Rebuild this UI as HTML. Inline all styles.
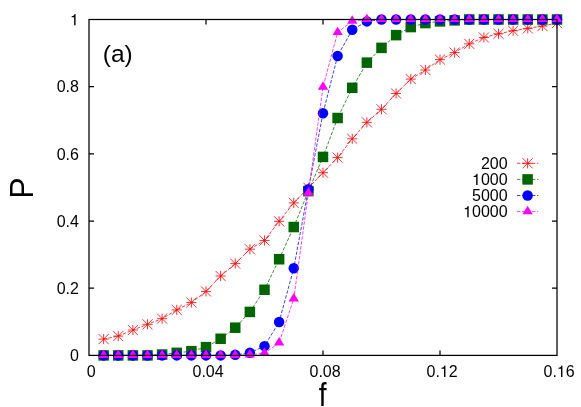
<!DOCTYPE html>
<html><head><meta charset="utf-8"><title>plot</title>
<style>
html,body{margin:0;padding:0;background:#fff;}
body{width:581px;height:407px;overflow:hidden;}
svg{display:block;will-change:transform;}
text{font-family:"Liberation Sans",sans-serif;fill:#000;}
</style></head><body>
<svg width="581" height="407" viewBox="0 0 581 407">
<rect x="0" y="0" width="581" height="407" fill="#fff"/>
<g font-size="16px">
<text x="70.00" y="361.20">0</text>
<text x="56.66" y="294.02">0.2</text>
<text x="56.66" y="226.84">0.4</text>
<text x="56.66" y="159.66">0.6</text>
<text x="56.66" y="92.48">0.8</text>
<path transform="translate(70.00,25.30) scale(0.016,-0.016)" d="M259 0L347 0L347 709L289 709C268 634 236 580 102 568L102 505L259 505Z" fill="#000"/>
<text x="86.65" y="376.90">0</text>
<text x="192.53" y="376.90">0.04</text>
<text x="309.53" y="376.90">0.08</text>
<text x="426.53" y="376.90">0.</text>
<path transform="translate(439.88,376.90) scale(0.016,-0.016)" d="M259 0L347 0L347 709L289 709C268 634 236 580 102 568L102 505L259 505Z" fill="#000"/>
<text x="448.77" y="376.90">2</text>
<text x="543.53" y="376.90">0.</text>
<path transform="translate(556.88,376.90) scale(0.016,-0.016)" d="M259 0L347 0L347 709L289 709C268 634 236 580 102 568L102 505L259 505Z" fill="#000"/>
<text x="565.77" y="376.90">6</text>
</g>
<text x="102.8" y="61.7" font-size="24.5px">(a)</text>
<text transform="translate(322.6,406.4) scale(0.88,1.05)" font-size="32px" text-anchor="middle">f</text>
<text transform="translate(33.0,188.0) rotate(-90) scale(1,1.06)" font-size="32px" text-anchor="middle">P</text>
<g stroke="#000" stroke-width="1.25" fill="none">
<path d="M89.0 288.22h5M557.0 288.22h-5"/>
<path d="M89.0 221.04h5M557.0 221.04h-5"/>
<path d="M89.0 153.86h5M557.0 153.86h-5"/>
<path d="M89.0 86.68h5M557.0 86.68h-5"/>
<path d="M206.00 355.4v-5M206.00 19.5v5"/>
<path d="M323.00 355.4v-5M323.00 19.5v5"/>
<path d="M440.00 355.4v-5M440.00 19.5v5"/>
</g>
<path d="M103.62 339.10 L118.25 336.08 L132.88 330.04 L147.50 324.33 L162.12 318.63 L176.75 309.91 L191.38 302.53 L206.00 291.45 L220.62 276.02 L235.25 263.61 L249.88 249.18 L264.50 240.46 L279.12 221.34 L293.75 202.88 L308.38 187.79 L323.00 172.69 L337.62 157.59 L352.25 138.80 L366.88 122.36 L381.50 109.28 L396.12 93.51 L410.75 79.08 L425.38 70.02 L440.00 59.62 L454.62 52.58 L469.25 43.86 L483.88 37.48 L498.50 33.79 L513.12 30.77 L527.75 28.42 L542.38 26.07 L557.00 23.06" fill="none" stroke="#ff0000" stroke-width="0.75" stroke-dasharray="3.4 1.6"/>
<path d="M98.58 339.10h10.1M103.62 334.05v10.1M98.58 334.05l10.1 10.1M98.58 344.15l10.1 -10.1" stroke="#ff0000" stroke-width="0.8" fill="none"/>
<path d="M113.20 336.08h10.1M118.25 331.03v10.1M113.20 331.03l10.1 10.1M113.20 341.13l10.1 -10.1" stroke="#ff0000" stroke-width="0.8" fill="none"/>
<path d="M127.83 330.04h10.1M132.88 324.99v10.1M127.83 324.99l10.1 10.1M127.83 335.09l10.1 -10.1" stroke="#ff0000" stroke-width="0.8" fill="none"/>
<path d="M142.45 324.33h10.1M147.50 319.28v10.1M142.45 319.28l10.1 10.1M142.45 329.38l10.1 -10.1" stroke="#ff0000" stroke-width="0.8" fill="none"/>
<path d="M157.07 318.63h10.1M162.12 313.58v10.1M157.07 313.58l10.1 10.1M157.07 323.68l10.1 -10.1" stroke="#ff0000" stroke-width="0.8" fill="none"/>
<path d="M171.70 309.91h10.1M176.75 304.86v10.1M171.70 304.86l10.1 10.1M171.70 314.96l10.1 -10.1" stroke="#ff0000" stroke-width="0.8" fill="none"/>
<path d="M186.32 302.53h10.1M191.38 297.48v10.1M186.32 297.48l10.1 10.1M186.32 307.58l10.1 -10.1" stroke="#ff0000" stroke-width="0.8" fill="none"/>
<path d="M200.95 291.45h10.1M206.00 286.40v10.1M200.95 286.40l10.1 10.1M200.95 296.50l10.1 -10.1" stroke="#ff0000" stroke-width="0.8" fill="none"/>
<path d="M215.57 276.02h10.1M220.62 270.97v10.1M215.57 270.97l10.1 10.1M215.57 281.07l10.1 -10.1" stroke="#ff0000" stroke-width="0.8" fill="none"/>
<path d="M230.20 263.61h10.1M235.25 258.56v10.1M230.20 258.56l10.1 10.1M230.20 268.66l10.1 -10.1" stroke="#ff0000" stroke-width="0.8" fill="none"/>
<path d="M244.82 249.18h10.1M249.88 244.13v10.1M244.82 244.13l10.1 10.1M244.82 254.23l10.1 -10.1" stroke="#ff0000" stroke-width="0.8" fill="none"/>
<path d="M259.45 240.46h10.1M264.50 235.41v10.1M259.45 235.41l10.1 10.1M259.45 245.51l10.1 -10.1" stroke="#ff0000" stroke-width="0.8" fill="none"/>
<path d="M274.07 221.34h10.1M279.12 216.29v10.1M274.07 216.29l10.1 10.1M274.07 226.39l10.1 -10.1" stroke="#ff0000" stroke-width="0.8" fill="none"/>
<path d="M288.70 202.88h10.1M293.75 197.83v10.1M288.70 197.83l10.1 10.1M288.70 207.93l10.1 -10.1" stroke="#ff0000" stroke-width="0.8" fill="none"/>
<path d="M303.32 187.79h10.1M308.38 182.74v10.1M303.32 182.74l10.1 10.1M303.32 192.84l10.1 -10.1" stroke="#ff0000" stroke-width="0.8" fill="none"/>
<path d="M317.95 172.69h10.1M323.00 167.64v10.1M317.95 167.64l10.1 10.1M317.95 177.74l10.1 -10.1" stroke="#ff0000" stroke-width="0.8" fill="none"/>
<path d="M332.57 157.59h10.1M337.62 152.54v10.1M332.57 152.54l10.1 10.1M332.57 162.64l10.1 -10.1" stroke="#ff0000" stroke-width="0.8" fill="none"/>
<path d="M347.20 138.80h10.1M352.25 133.75v10.1M347.20 133.75l10.1 10.1M347.20 143.85l10.1 -10.1" stroke="#ff0000" stroke-width="0.8" fill="none"/>
<path d="M361.82 122.36h10.1M366.88 117.31v10.1M361.82 117.31l10.1 10.1M361.82 127.41l10.1 -10.1" stroke="#ff0000" stroke-width="0.8" fill="none"/>
<path d="M376.45 109.28h10.1M381.50 104.23v10.1M376.45 104.23l10.1 10.1M376.45 114.33l10.1 -10.1" stroke="#ff0000" stroke-width="0.8" fill="none"/>
<path d="M391.07 93.51h10.1M396.12 88.46v10.1M391.07 88.46l10.1 10.1M391.07 98.56l10.1 -10.1" stroke="#ff0000" stroke-width="0.8" fill="none"/>
<path d="M405.70 79.08h10.1M410.75 74.03v10.1M405.70 74.03l10.1 10.1M405.70 84.13l10.1 -10.1" stroke="#ff0000" stroke-width="0.8" fill="none"/>
<path d="M420.32 70.02h10.1M425.38 64.97v10.1M420.32 64.97l10.1 10.1M420.32 75.07l10.1 -10.1" stroke="#ff0000" stroke-width="0.8" fill="none"/>
<path d="M434.95 59.62h10.1M440.00 54.57v10.1M434.95 54.57l10.1 10.1M434.95 64.67l10.1 -10.1" stroke="#ff0000" stroke-width="0.8" fill="none"/>
<path d="M449.57 52.58h10.1M454.62 47.53v10.1M449.57 47.53l10.1 10.1M449.57 57.63l10.1 -10.1" stroke="#ff0000" stroke-width="0.8" fill="none"/>
<path d="M464.20 43.86h10.1M469.25 38.81v10.1M464.20 38.81l10.1 10.1M464.20 48.91l10.1 -10.1" stroke="#ff0000" stroke-width="0.8" fill="none"/>
<path d="M478.83 37.48h10.1M483.88 32.43v10.1M478.83 32.43l10.1 10.1M478.83 42.53l10.1 -10.1" stroke="#ff0000" stroke-width="0.8" fill="none"/>
<path d="M493.45 33.79h10.1M498.50 28.74v10.1M493.45 28.74l10.1 10.1M493.45 38.84l10.1 -10.1" stroke="#ff0000" stroke-width="0.8" fill="none"/>
<path d="M508.07 30.77h10.1M513.12 25.72v10.1M508.07 25.72l10.1 10.1M508.07 35.82l10.1 -10.1" stroke="#ff0000" stroke-width="0.8" fill="none"/>
<path d="M522.70 28.42h10.1M527.75 23.37v10.1M522.70 23.37l10.1 10.1M522.70 33.47l10.1 -10.1" stroke="#ff0000" stroke-width="0.8" fill="none"/>
<path d="M537.33 26.07h10.1M542.38 21.02v10.1M537.33 21.02l10.1 10.1M537.33 31.12l10.1 -10.1" stroke="#ff0000" stroke-width="0.8" fill="none"/>
<path d="M551.95 23.06h10.1M557.00 18.01v10.1M551.95 18.01l10.1 10.1M551.95 28.11l10.1 -10.1" stroke="#ff0000" stroke-width="0.8" fill="none"/>
<path d="M103.62 355.40 L118.25 355.40 L132.88 355.40 L147.50 355.40 L162.12 354.53 L176.75 352.85 L191.38 351.17 L206.00 347.15 L220.62 338.76 L235.25 327.69 L249.88 311.92 L264.50 289.78 L279.12 259.25 L293.75 227.04 L308.38 191.14 L323.00 156.92 L337.62 118.00 L352.25 87.81 L366.88 62.64 L381.50 47.88 L396.12 35.13 L410.75 27.08 L425.38 23.06 L440.00 21.38 L454.62 20.37 L469.25 19.50 L483.88 19.50 L498.50 19.50 L513.12 19.50 L527.75 19.50 L542.38 19.50 L557.00 19.50" fill="none" stroke="#006400" stroke-width="0.75" stroke-dasharray="3.4 1.6"/>
<rect x="98.38" y="350.15" width="10.5" height="10.5" fill="#006400"/>
<rect x="113.00" y="350.15" width="10.5" height="10.5" fill="#006400"/>
<rect x="127.62" y="350.15" width="10.5" height="10.5" fill="#006400"/>
<rect x="142.25" y="350.15" width="10.5" height="10.5" fill="#006400"/>
<rect x="156.88" y="349.28" width="10.5" height="10.5" fill="#006400"/>
<rect x="171.50" y="347.60" width="10.5" height="10.5" fill="#006400"/>
<rect x="186.12" y="345.92" width="10.5" height="10.5" fill="#006400"/>
<rect x="200.75" y="341.90" width="10.5" height="10.5" fill="#006400"/>
<rect x="215.38" y="333.51" width="10.5" height="10.5" fill="#006400"/>
<rect x="230.00" y="322.44" width="10.5" height="10.5" fill="#006400"/>
<rect x="244.62" y="306.67" width="10.5" height="10.5" fill="#006400"/>
<rect x="259.25" y="284.53" width="10.5" height="10.5" fill="#006400"/>
<rect x="273.88" y="254.00" width="10.5" height="10.5" fill="#006400"/>
<rect x="288.50" y="221.79" width="10.5" height="10.5" fill="#006400"/>
<rect x="303.12" y="185.89" width="10.5" height="10.5" fill="#006400"/>
<rect x="317.75" y="151.67" width="10.5" height="10.5" fill="#006400"/>
<rect x="332.38" y="112.75" width="10.5" height="10.5" fill="#006400"/>
<rect x="347.00" y="82.56" width="10.5" height="10.5" fill="#006400"/>
<rect x="361.62" y="57.39" width="10.5" height="10.5" fill="#006400"/>
<rect x="376.25" y="42.63" width="10.5" height="10.5" fill="#006400"/>
<rect x="390.88" y="29.88" width="10.5" height="10.5" fill="#006400"/>
<rect x="405.50" y="21.83" width="10.5" height="10.5" fill="#006400"/>
<rect x="420.12" y="17.81" width="10.5" height="10.5" fill="#006400"/>
<rect x="434.75" y="16.13" width="10.5" height="10.5" fill="#006400"/>
<rect x="449.38" y="15.12" width="10.5" height="10.5" fill="#006400"/>
<rect x="464.00" y="14.25" width="10.5" height="10.5" fill="#006400"/>
<rect x="478.63" y="14.25" width="10.5" height="10.5" fill="#006400"/>
<rect x="493.25" y="14.25" width="10.5" height="10.5" fill="#006400"/>
<rect x="507.88" y="14.25" width="10.5" height="10.5" fill="#006400"/>
<rect x="522.50" y="14.25" width="10.5" height="10.5" fill="#006400"/>
<rect x="537.12" y="14.25" width="10.5" height="10.5" fill="#006400"/>
<rect x="551.75" y="14.25" width="10.5" height="10.5" fill="#006400"/>
<path d="M103.62 355.40 L118.25 355.40 L132.88 355.40 L147.50 355.40 L162.12 355.40 L176.75 355.40 L191.38 355.40 L206.00 355.40 L220.62 355.40 L235.25 354.86 L249.88 352.85 L264.50 346.14 L279.12 321.99 L293.75 268.31 L308.38 189.13 L323.00 113.30 L337.62 55.93 L352.25 29.76 L366.88 21.38 L381.50 19.50 L396.12 19.50 L410.75 19.50 L425.38 19.50 L440.00 19.50 L454.62 19.50 L469.25 19.50 L483.88 19.50 L498.50 19.50 L513.12 19.50 L527.75 19.50 L542.38 19.50 L557.00 19.50" fill="none" stroke="#0000ff" stroke-width="0.75" stroke-dasharray="3.4 1.6"/>
<circle cx="103.62" cy="355.40" r="5.25" fill="#0000ff"/>
<circle cx="118.25" cy="355.40" r="5.25" fill="#0000ff"/>
<circle cx="132.88" cy="355.40" r="5.25" fill="#0000ff"/>
<circle cx="147.50" cy="355.40" r="5.25" fill="#0000ff"/>
<circle cx="162.12" cy="355.40" r="5.25" fill="#0000ff"/>
<circle cx="176.75" cy="355.40" r="5.25" fill="#0000ff"/>
<circle cx="191.38" cy="355.40" r="5.25" fill="#0000ff"/>
<circle cx="206.00" cy="355.40" r="5.25" fill="#0000ff"/>
<circle cx="220.62" cy="355.40" r="5.25" fill="#0000ff"/>
<circle cx="235.25" cy="354.86" r="5.25" fill="#0000ff"/>
<circle cx="249.88" cy="352.85" r="5.25" fill="#0000ff"/>
<circle cx="264.50" cy="346.14" r="5.25" fill="#0000ff"/>
<circle cx="279.12" cy="321.99" r="5.25" fill="#0000ff"/>
<circle cx="293.75" cy="268.31" r="5.25" fill="#0000ff"/>
<circle cx="308.38" cy="189.13" r="5.25" fill="#0000ff"/>
<circle cx="323.00" cy="113.30" r="5.25" fill="#0000ff"/>
<circle cx="337.62" cy="55.93" r="5.25" fill="#0000ff"/>
<circle cx="352.25" cy="29.76" r="5.25" fill="#0000ff"/>
<circle cx="366.88" cy="21.38" r="5.25" fill="#0000ff"/>
<circle cx="381.50" cy="19.50" r="5.25" fill="#0000ff"/>
<circle cx="396.12" cy="19.50" r="5.25" fill="#0000ff"/>
<circle cx="410.75" cy="19.50" r="5.25" fill="#0000ff"/>
<circle cx="425.38" cy="19.50" r="5.25" fill="#0000ff"/>
<circle cx="440.00" cy="19.50" r="5.25" fill="#0000ff"/>
<circle cx="454.62" cy="19.50" r="5.25" fill="#0000ff"/>
<circle cx="469.25" cy="19.50" r="5.25" fill="#0000ff"/>
<circle cx="483.88" cy="19.50" r="5.25" fill="#0000ff"/>
<circle cx="498.50" cy="19.50" r="5.25" fill="#0000ff"/>
<circle cx="513.12" cy="19.50" r="5.25" fill="#0000ff"/>
<circle cx="527.75" cy="19.50" r="5.25" fill="#0000ff"/>
<circle cx="542.38" cy="19.50" r="5.25" fill="#0000ff"/>
<circle cx="557.00" cy="19.50" r="5.25" fill="#0000ff"/>
<path d="M103.62 355.40 L118.25 355.40 L132.88 355.40 L147.50 355.40 L162.12 355.40 L176.75 355.40 L191.38 355.40 L206.00 355.40 L220.62 355.40 L235.25 355.40 L249.88 354.86 L264.50 353.19 L279.12 342.79 L293.75 298.84 L308.38 193.15 L323.00 87.14 L337.62 32.45 L352.25 21.04 L366.88 19.50 L381.50 19.50 L396.12 19.50 L410.75 19.50 L425.38 19.50 L440.00 19.50 L454.62 19.50 L469.25 19.50 L483.88 19.50 L498.50 19.50 L513.12 19.50 L527.75 19.50 L542.38 19.50 L557.00 19.50" fill="none" stroke="#ff00ff" stroke-width="0.75" stroke-dasharray="3.4 1.6"/>
<path d="M103.62 349.60L98.42 358.00L108.83 358.00Z" fill="#ff00ff"/>
<path d="M118.25 349.60L113.05 358.00L123.45 358.00Z" fill="#ff00ff"/>
<path d="M132.88 349.60L127.67 358.00L138.07 358.00Z" fill="#ff00ff"/>
<path d="M147.50 349.60L142.30 358.00L152.70 358.00Z" fill="#ff00ff"/>
<path d="M162.12 349.60L156.93 358.00L167.32 358.00Z" fill="#ff00ff"/>
<path d="M176.75 349.60L171.55 358.00L181.95 358.00Z" fill="#ff00ff"/>
<path d="M191.38 349.60L186.18 358.00L196.57 358.00Z" fill="#ff00ff"/>
<path d="M206.00 349.60L200.80 358.00L211.20 358.00Z" fill="#ff00ff"/>
<path d="M220.62 349.60L215.43 358.00L225.82 358.00Z" fill="#ff00ff"/>
<path d="M235.25 349.60L230.05 358.00L240.45 358.00Z" fill="#ff00ff"/>
<path d="M249.88 349.06L244.68 357.46L255.07 357.46Z" fill="#ff00ff"/>
<path d="M264.50 347.39L259.30 355.79L269.70 355.79Z" fill="#ff00ff"/>
<path d="M279.12 336.99L273.93 345.39L284.32 345.39Z" fill="#ff00ff"/>
<path d="M293.75 293.04L288.55 301.44L298.95 301.44Z" fill="#ff00ff"/>
<path d="M308.38 187.35L303.18 195.75L313.57 195.75Z" fill="#ff00ff"/>
<path d="M323.00 81.34L317.80 89.74L328.20 89.74Z" fill="#ff00ff"/>
<path d="M337.62 26.65L332.43 35.05L342.82 35.05Z" fill="#ff00ff"/>
<path d="M352.25 15.24L347.05 23.64L357.45 23.64Z" fill="#ff00ff"/>
<path d="M366.88 13.70L361.68 22.10L372.07 22.10Z" fill="#ff00ff"/>
<path d="M381.50 13.70L376.30 22.10L386.70 22.10Z" fill="#ff00ff"/>
<path d="M396.12 13.70L390.93 22.10L401.32 22.10Z" fill="#ff00ff"/>
<path d="M410.75 13.70L405.55 22.10L415.95 22.10Z" fill="#ff00ff"/>
<path d="M425.38 13.70L420.18 22.10L430.57 22.10Z" fill="#ff00ff"/>
<path d="M440.00 13.70L434.80 22.10L445.20 22.10Z" fill="#ff00ff"/>
<path d="M454.62 13.70L449.43 22.10L459.82 22.10Z" fill="#ff00ff"/>
<path d="M469.25 13.70L464.05 22.10L474.45 22.10Z" fill="#ff00ff"/>
<path d="M483.88 13.70L478.68 22.10L489.08 22.10Z" fill="#ff00ff"/>
<path d="M498.50 13.70L493.30 22.10L503.70 22.10Z" fill="#ff00ff"/>
<path d="M513.12 13.70L507.93 22.10L518.33 22.10Z" fill="#ff00ff"/>
<path d="M527.75 13.70L522.55 22.10L532.95 22.10Z" fill="#ff00ff"/>
<path d="M542.38 13.70L537.17 22.10L547.58 22.10Z" fill="#ff00ff"/>
<path d="M557.00 13.70L551.80 22.10L562.20 22.10Z" fill="#ff00ff"/>
<rect x="89.0" y="19.5" width="468.00" height="335.90" stroke="#000" stroke-width="1.25" fill="none"/>
<g font-size="16px">
<text x="480.91" y="169.00">200</text>
<path transform="translate(472.02,185.10) scale(0.016,-0.016)" d="M259 0L347 0L347 709L289 709C268 634 236 580 102 568L102 505L259 505Z" fill="#000"/>
<text x="480.91" y="185.10">000</text>
<text x="472.02" y="201.20">5000</text>
<path transform="translate(463.12,217.30) scale(0.016,-0.016)" d="M259 0L347 0L347 709L289 709C268 634 236 580 102 568L102 505L259 505Z" fill="#000"/>
<text x="472.02" y="217.30">0000</text>
</g>
<path d="M517 163.3H538.3" fill="none" stroke="#ff0000" stroke-width="0.75" stroke-dasharray="3.4 1.6"/>
<path d="M522.55 163.30h10.1M527.60 158.25v10.1M522.55 158.25l10.1 10.1M522.55 168.35l10.1 -10.1" stroke="#ff0000" stroke-width="0.8" fill="none"/>
<path d="M517 179.4H538.3" fill="none" stroke="#006400" stroke-width="0.75" stroke-dasharray="3.4 1.6"/>
<rect x="522.35" y="174.15" width="10.5" height="10.5" fill="#006400"/>
<path d="M517 195.5H538.3" fill="none" stroke="#0000ff" stroke-width="0.75" stroke-dasharray="3.4 1.6"/>
<circle cx="527.60" cy="195.50" r="5.25" fill="#0000ff"/>
<path d="M517 211.6H538.3" fill="none" stroke="#ff00ff" stroke-width="0.75" stroke-dasharray="3.4 1.6"/>
<path d="M527.60 205.80L522.40 214.20L532.80 214.20Z" fill="#ff00ff"/>
</svg>
</body></html>
